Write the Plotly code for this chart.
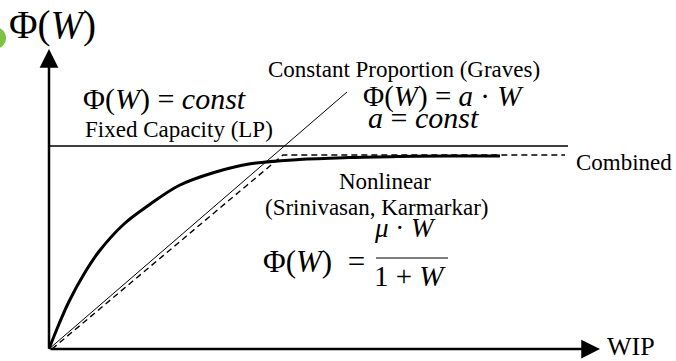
import plotly.graph_objects as go

# W axis units: 1 unit ~ 50 px in the original sketch
# Fixed capacity (LP)
fixed_w = [0.0, 10.38]
fixed_phi = [4.06, 4.06]

# Constant proportion (Graves)
prop_w = [0.0, 5.96]
prop_phi = [0.0, 5.14]

# Combined (dashed)
comb_w = [0.06, 4.68, 10.32]
comb_phi = [0.0, 3.88, 3.88]

# Nonlinear (Srinivasan, Karmarkar)
nl_w = [0.0, 0.2, 0.4, 0.7, 1.0, 1.5, 2.0, 2.6, 3.3, 4.0, 5.0, 6.0, 7.0, 8.0, 9.02]
nl_phi = [0.0, 0.5, 0.95, 1.5, 1.95, 2.5, 2.88, 3.27, 3.53, 3.7, 3.79, 3.83, 3.85, 3.86, 3.86]

X_TIP = 11.02   # end of the WIP axis arrow
Y_TIP = 6.0     # end of the Phi axis arrow
SERIF = "Liberation Serif"
INK = "black"

fig = go.Figure()

fig.add_trace(go.Scatter(x=fixed_w, y=fixed_phi, mode="lines",
                         line=dict(color=INK, width=1.4), hoverinfo="skip"))
fig.add_trace(go.Scatter(x=prop_w, y=prop_phi, mode="lines",
                         line=dict(color=INK, width=1.0), hoverinfo="skip"))
fig.add_trace(go.Scatter(x=comb_w, y=comb_phi, mode="lines",
                         line=dict(color=INK, width=1.4, dash="6px,4px"), hoverinfo="skip"))
fig.add_trace(go.Scatter(x=nl_w, y=nl_phi, mode="lines", line_shape="spline",
                         line=dict(color=INK, width=3), hoverinfo="skip"))

# axes drawn as arrows
for tip_x, tip_y in [(0, Y_TIP), (X_TIP, 0)]:
    fig.add_annotation(x=tip_x, y=tip_y, ax=0, ay=0, xref="x", yref="y",
                       axref="x", ayref="y", text="", showarrow=True,
                       arrowhead=2, arrowsize=1.5, arrowwidth=2.5, arrowcolor=INK)


def label(x, y, text, size, xanchor="left"):
    fig.add_annotation(x=x, y=y, xref="x", yref="y", text=text, showarrow=False,
                       xanchor=xanchor, yanchor="middle",
                       font=dict(family=SERIF, size=size, color=INK))


label(-0.84, 6.48, "Φ(<i>W</i>)", 39)
label(0.64, 5.0, "Φ(<i>W</i>)&nbsp;=&nbsp;<i>const</i>", 30)
label(0.68, 4.4, "Fixed Capacity (LP)", 23)
label(4.34, 5.6, "Constant Proportion (Graves)", 23)
label(6.24, 5.06, "Φ(<i>W</i>) = <i>a</i> · <i>W</i>", 29)
label(6.34, 4.64, "<i>a</i> = <i>const</i>", 30)
label(10.5, 3.74, "Combined", 23)
label(6.72, 3.36, "Nonlinear", 23, "center")
label(6.56, 2.84, "(Srinivasan, Karmarkar)", 23, "center")
label(4.24, 1.76, "Φ(<i>W</i>)&nbsp;&nbsp;=", 31)
label(7.12, 2.42, "<i>μ</i> · <i>W</i>", 27, "center")
label(7.22, 1.46, "1 + <i>W</i>", 29, "center")
label(11.12, 0.06, "WIP", 26)

# fraction bar
fig.add_shape(type="line", xref="x", yref="y", x0=6.54, x1=7.98, y0=1.82, y1=1.82,
              line=dict(color=INK, width=1.2))

# green blob cut by the left edge of the original slide
fig.add_shape(type="circle", xref="x", yref="y", x0=-1.3, x1=-0.86, y0=6.0, y1=6.44,
              fillcolor="#7dc242", line=dict(width=0), layer="above")

fig.update_layout(
    width=676, height=361,
    margin=dict(l=0, r=0, t=0, b=0),
    paper_bgcolor="white", plot_bgcolor="white",
    showlegend=False,
    xaxis=dict(range=[-0.98, 12.54], visible=False, fixedrange=True),
    yaxis=dict(range=[-0.24, 6.98], visible=False, fixedrange=True),
)

fig.write_html("out.html", config={"displayModeBar": False},
               post_script="document.body.style.margin='0';")
